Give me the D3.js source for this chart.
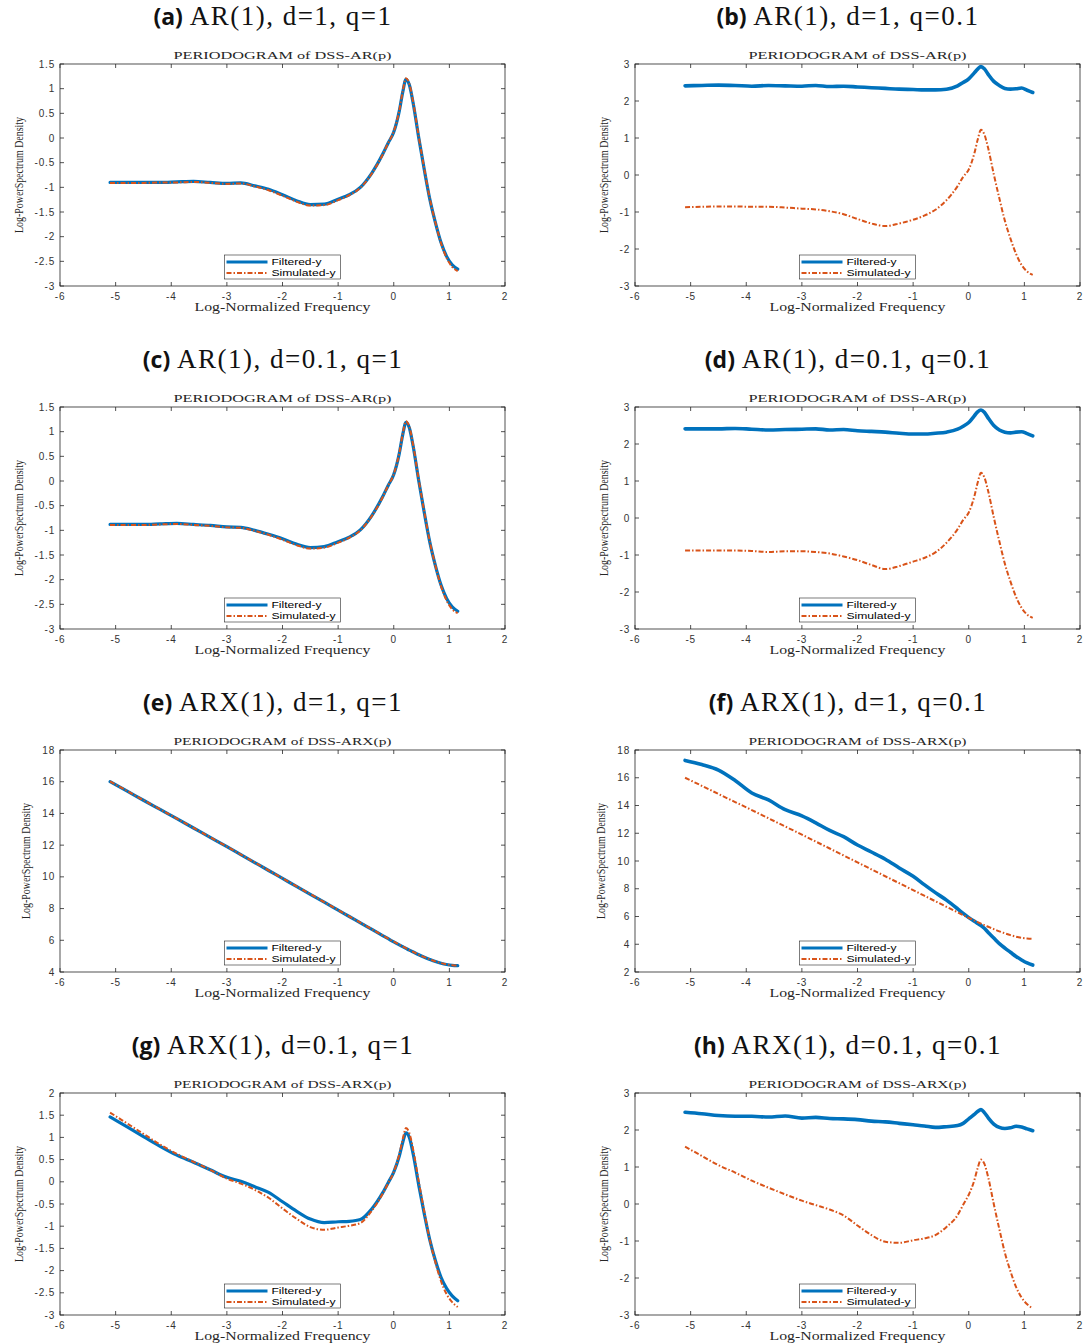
<!DOCTYPE html>
<html lang="en">
<head>
<meta charset="UTF-8" />
<title>Periodograms of DSS-AR(p) / DSS-ARX(p)</title>
<script src="https://d3js.org/d3.v7.min.js"></script>
<style>
  body { margin: 0; background: #fff; }
  svg { display: block; }
  .tick-label { font-family: "Liberation Sans", Arial, sans-serif; font-size: 10px; fill: #333; letter-spacing: 0.8px; }
  .cm { font-family: "Liberation Serif", "DejaVu Serif", serif; fill: #262626; }
  .leg-text { font-family: "Liberation Sans", Arial, sans-serif; font-size: 9.5px; fill: #000; }
</style>
</head>
<body>
<div id="chart"></div>
<script>
// log-normalized frequency grid shared by all curves
const freq = [-5.1,-4.8,-4.5,-4.2,-3.9,-3.6,-3.3,-3.0,-2.75,-2.5,-2.25,-2.0,-1.75,-1.5,-1.25,-1.0,-0.8,-0.6,-0.4,-0.2,-0.1,0,0.1,0.16,0.22,0.28,0.35,0.45,0.55,0.65,0.75,0.85,0.95,1.05,1.15];

// (a) AR(1), d=1, q=1
const filtA = [-0.90,-0.90,-0.90,-0.90,-0.89,-0.88,-0.90,-0.92,-0.91,-0.97,-1.04,-1.15,-1.27,-1.35,-1.34,-1.24,-1.15,-1.00,-0.72,-0.33,-0.10,0.12,0.55,0.92,1.19,1.08,0.70,0.00,-0.65,-1.25,-1.72,-2.12,-2.40,-2.57,-2.66];
const simA  = [-0.91,-0.91,-0.91,-0.90,-0.90,-0.89,-0.91,-0.93,-0.92,-0.98,-1.06,-1.17,-1.29,-1.37,-1.36,-1.26,-1.16,-1.01,-0.73,-0.34,-0.10,0.13,0.56,0.94,1.21,1.10,0.72,0.02,-0.63,-1.24,-1.72,-2.13,-2.43,-2.61,-2.70];
// (b) AR(1), d=1, q=0.1
const filtB = [2.41,2.42,2.43,2.42,2.40,2.42,2.41,2.40,2.42,2.39,2.40,2.38,2.36,2.34,2.32,2.31,2.30,2.30,2.32,2.41,2.50,2.60,2.76,2.86,2.93,2.87,2.72,2.53,2.42,2.34,2.32,2.33,2.35,2.29,2.23];
const simB  = [-0.87,-0.86,-0.85,-0.85,-0.86,-0.86,-0.88,-0.91,-0.93,-0.98,-1.06,-1.19,-1.31,-1.38,-1.31,-1.21,-1.10,-0.94,-0.68,-0.30,-0.05,0.15,0.58,0.95,1.22,1.10,0.72,0.02,-0.63,-1.24,-1.72,-2.13,-2.43,-2.61,-2.70];
// (c) AR(1), d=0.1, q=1
const filtC = [-0.88,-0.88,-0.88,-0.87,-0.86,-0.88,-0.90,-0.93,-0.94,-1.00,-1.08,-1.17,-1.28,-1.35,-1.33,-1.23,-1.14,-0.99,-0.71,-0.32,-0.09,0.13,0.56,0.93,1.19,1.08,0.70,0.00,-0.65,-1.25,-1.72,-2.11,-2.38,-2.55,-2.64];
const simC  = [-0.89,-0.89,-0.89,-0.88,-0.87,-0.89,-0.91,-0.94,-0.95,-1.01,-1.09,-1.19,-1.30,-1.37,-1.35,-1.25,-1.15,-1.00,-0.72,-0.33,-0.09,0.14,0.57,0.95,1.21,1.10,0.72,0.02,-0.63,-1.24,-1.72,-2.13,-2.42,-2.60,-2.68];
// (d) AR(1), d=0.1, q=0.1
const filtD = [2.41,2.41,2.41,2.42,2.40,2.38,2.39,2.40,2.41,2.38,2.39,2.36,2.34,2.32,2.29,2.27,2.27,2.29,2.32,2.40,2.48,2.58,2.76,2.87,2.92,2.86,2.70,2.50,2.38,2.32,2.30,2.32,2.33,2.28,2.22];
const simD  = [-0.88,-0.88,-0.88,-0.88,-0.89,-0.92,-0.90,-0.90,-0.92,-0.96,-1.04,-1.14,-1.27,-1.38,-1.30,-1.18,-1.08,-0.93,-0.67,-0.30,-0.05,0.15,0.58,0.95,1.22,1.10,0.72,0.02,-0.63,-1.24,-1.72,-2.13,-2.43,-2.61,-2.70];
// (e) ARX(1), d=1, q=1
const filtE = [16.0,15.42,14.83,14.25,13.67,13.08,12.49,11.90,11.40,10.90,10.40,9.90,9.40,8.90,8.40,7.90,7.50,7.10,6.70,6.30,6.10,5.90,5.71,5.60,5.49,5.38,5.26,5.09,4.93,4.79,4.66,4.55,4.47,4.42,4.40];
const simE  = [16.02,15.43,14.84,14.26,13.68,13.09,12.50,11.91,11.41,10.91,10.41,9.91,9.41,8.91,8.41,7.91,7.51,7.11,6.71,6.31,6.11,5.91,5.72,5.61,5.50,5.39,5.27,5.10,4.94,4.80,4.67,4.56,4.48,4.43,4.41];
// (f) ARX(1), d=1, q=0.1
const filtF = [17.25,16.95,16.55,15.8,14.9,14.4,13.7,13.25,12.75,12.2,11.75,11.15,10.65,10.13,9.5,8.9,8.3,7.72,7.18,6.55,6.22,5.92,5.65,5.5,5.35,5.15,4.85,4.45,4.05,3.72,3.42,3.12,2.87,2.65,2.5];
const simF  = [16.0,15.42,14.83,14.25,13.67,13.08,12.49,11.90,11.40,10.90,10.40,9.90,9.40,8.90,8.40,7.90,7.50,7.10,6.70,6.30,6.10,5.90,5.71,5.60,5.49,5.38,5.26,5.09,4.93,4.79,4.66,4.55,4.47,4.42,4.40];
// (g) ARX(1), d=0.1, q=1
const filtG = [1.46,1.24,1.02,0.80,0.60,0.44,0.27,0.10,0.01,-0.11,-0.24,-0.45,-0.66,-0.84,-0.92,-0.90,-0.89,-0.85,-0.62,-0.25,-0.02,0.22,0.58,0.88,1.10,1.00,0.62,-0.08,-0.73,-1.32,-1.78,-2.15,-2.40,-2.57,-2.68];
const simG  = [1.56,1.32,1.08,0.84,0.63,0.45,0.27,0.07,-0.04,-0.18,-0.36,-0.60,-0.83,-1.02,-1.08,-1.03,-0.99,-0.93,-0.66,-0.27,-0.03,0.22,0.62,0.95,1.21,1.10,0.72,0.00,-0.68,-1.32,-1.82,-2.24,-2.53,-2.71,-2.82];
// (h) ARX(1), d=0.1, q=0.1
const filtH = [2.48,2.44,2.39,2.37,2.37,2.35,2.38,2.32,2.34,2.31,2.30,2.28,2.24,2.22,2.18,2.14,2.11,2.07,2.09,2.12,2.18,2.30,2.42,2.50,2.55,2.47,2.33,2.16,2.07,2.04,2.06,2.10,2.08,2.03,1.98];
const simH  = [1.55,1.30,1.05,0.85,0.63,0.44,0.26,0.09,-0.03,-0.15,-0.31,-0.58,-0.84,-1.02,-1.05,-0.98,-0.93,-0.84,-0.62,-0.30,-0.02,0.25,0.64,0.97,1.20,1.09,0.72,0.00,-0.68,-1.32,-1.82,-2.24,-2.53,-2.71,-2.82];

const xTicks = [-6,-5,-4,-3,-2,-1,0,1,2];
const yTicksFine = [-3,-2.5,-2,-1.5,-1,-0.5,0,0.5,1,1.5];
const yTicksWide = [-3,-2,-1,0,1,2,3];
const yTicksArxG = [-3,-2.5,-2,-1.5,-1,-0.5,0,0.5,1,1.5,2];
const yTicksArxE = [4,6,8,10,12,14,16,18];
const yTicksArxF = [2,4,6,8,10,12,14,16,18];

const panelLetters = ["a","b","c","d","e","f","g","h"];
const panelModels  = ["AR(1), d=1, q=1","AR(1), d=1, q=0.1","AR(1), d=0.1, q=1","AR(1), d=0.1, q=0.1",
                      "ARX(1), d=1, q=1","ARX(1), d=1, q=0.1","ARX(1), d=0.1, q=1","ARX(1), d=0.1, q=0.1"];
const axisTitles   = ["PERIODOGRAM of DSS-AR(p)","PERIODOGRAM of DSS-ARX(p)"];
const seriesNames  = ["Filtered-y","Simulated-y"];

const panels = [
  {filt: filtA, sim: simA, yd: [-3,1.5], yt: yTicksFine},
  {filt: filtB, sim: simB, yd: [-3,3],   yt: yTicksWide},
  {filt: filtC, sim: simC, yd: [-3,1.5], yt: yTicksFine},
  {filt: filtD, sim: simD, yd: [-3,3],   yt: yTicksWide},
  {filt: filtE, sim: simE, yd: [4,18],   yt: yTicksArxE},
  {filt: filtF, sim: simF, yd: [2,18],   yt: yTicksArxF},
  {filt: filtG, sim: simG, yd: [-3,2],   yt: yTicksArxG},
  {filt: filtH, sim: simH, yd: [-3,3],   yt: yTicksWide}
];

const W = 1087, H = 1344;
const colLeft = [60, 635], boxW = 445, boxH = 222;
const rowTop = [64, 407, 750, 1093];
const titleCx = [273, 848];
const blue = "#0072BD", orange = "#D95319", axCol = "#262626";

const svg = d3.select("#chart").append("svg").attr("width", W).attr("height", H);

panels.forEach((p, i) => {
  const col = i % 2, row = Math.floor(i / 2);
  const L = colLeft[col], T = rowTop[row];
  const x = d3.scaleLinear().domain([-6, 2]).range([L, L + boxW]);
  const y = d3.scaleLinear().domain(p.yd).range([T + boxH, T]);
  const g = svg.append("g");

  // subplot caption
  const cap = g.append("text").attr("x", titleCx[col]).attr("y", T - 39).attr("text-anchor", "middle");
  cap.append("tspan").attr("font-family", "'Open Sans', 'DejaVu Sans', sans-serif").attr("font-weight", "bold")
     .attr("font-size", 23).attr("fill", "#111").text("(" + panelLetters[i] + ")");
  cap.append("tspan").attr("font-family", "'Liberation Serif', serif").attr("font-size", 27).attr("fill", "#111")
     .attr("letter-spacing", "1.5px").attr("word-spacing", "0px")
     .text(" " + panelModels[i]);

  // axes title
  g.append("text").attr("class", "cm").attr("x", L + boxW / 2).attr("y", T - 5).attr("text-anchor", "middle")
    .attr("font-size", 11).attr("textLength", 218).attr("lengthAdjust", "spacingAndGlyphs")
    .text(axisTitles[row < 2 ? 0 : 1]);

  // box
  g.append("rect").attr("x", L).attr("y", T).attr("width", boxW).attr("height", boxH)
    .attr("fill", "#fff").attr("stroke", axCol).attr("stroke-width", 0.8);

  // ticks (inward, on all four sides)
  const tl = 4;
  xTicks.forEach(v => {
    g.append("line").attr("x1", x(v)).attr("x2", x(v)).attr("y1", T + boxH).attr("y2", T + boxH - tl).attr("stroke", axCol).attr("stroke-width", 0.8);
    g.append("line").attr("x1", x(v)).attr("x2", x(v)).attr("y1", T).attr("y2", T + tl).attr("stroke", axCol).attr("stroke-width", 0.8);
    g.append("text").attr("class", "tick-label").attr("x", x(v)).attr("y", T + boxH + 13.5).attr("text-anchor", "middle").text(String(v));
  });
  let maxW = 0;
  p.yt.forEach(v => {
    g.append("line").attr("x1", L).attr("x2", L + tl).attr("y1", y(v)).attr("y2", y(v)).attr("stroke", axCol).attr("stroke-width", 0.8);
    g.append("line").attr("x1", L + boxW).attr("x2", L + boxW - tl).attr("y1", y(v)).attr("y2", y(v)).attr("stroke", axCol).attr("stroke-width", 0.8);
    const t = g.append("text").attr("class", "tick-label").attr("x", L - 5).attr("y", y(v) + 3.5).attr("text-anchor", "end").text(String(v));
    maxW = Math.max(maxW, t.node().getComputedTextLength());
  });

  // axis labels
  g.append("text").attr("class", "cm").attr("x", L + boxW / 2).attr("y", T + boxH + 25).attr("text-anchor", "middle")
    .attr("font-size", 11.5).attr("textLength", 176).attr("lengthAdjust", "spacingAndGlyphs").text("Log-Normalized Frequency");
  const ylx = L - 5 - maxW - 12;
  g.append("text").attr("class", "cm").attr("transform", `translate(${ylx},${T + boxH / 2}) rotate(-90)`)
    .attr("text-anchor", "middle").attr("font-size", 12).attr("textLength", 116).attr("lengthAdjust", "spacingAndGlyphs")
    .text("Log-PowerSpectrum Density");

  // curves
  const line = d3.line().x((d, k) => x(freq[k])).y(d => y(d)).curve(d3.curveMonotoneX);
  const noisy = (i % 2 === 1);
  g.append("path").attr("d", line(p.filt)).attr("fill", "none").attr("stroke", blue)
    .attr("stroke-width", noisy ? 3.6 : 3.2).attr("stroke-linejoin", "round").attr("stroke-linecap", "round");
  g.append("path").attr("d", line(p.sim)).attr("fill", "none").attr("stroke", orange)
    .attr("stroke-width", 2).attr("stroke-dasharray", "5,2,1.5,2");

  // legend (south)
  const lw = 116, lh = 24;
  const lx = L + boxW / 2 - lw / 2, ly = T + boxH - 7 - lh;
  const lg = g.append("g");
  lg.append("rect").attr("x", lx).attr("y", ly).attr("width", lw).attr("height", lh)
    .attr("fill", "#fff").attr("stroke", axCol).attr("stroke-width", 0.6);
  [blue, orange].forEach((c, k) => {
    const yy = ly + 7 + k * 11;
    lg.append("line").attr("x1", lx + 2).attr("x2", lx + 43).attr("y1", yy).attr("y2", yy).attr("stroke", c)
      .attr("stroke-width", k === 0 ? 3 : 2).attr("stroke-dasharray", k === 0 ? null : "5,2,1.5,2");
    lg.append("text").attr("class", "leg-text").attr("x", lx + 47).attr("y", yy + 3.3)
      .attr("textLength", k === 0 ? 50 : 64).attr("lengthAdjust", "spacingAndGlyphs").text(seriesNames[k]);
  });
});
</script>
</body>
</html>
